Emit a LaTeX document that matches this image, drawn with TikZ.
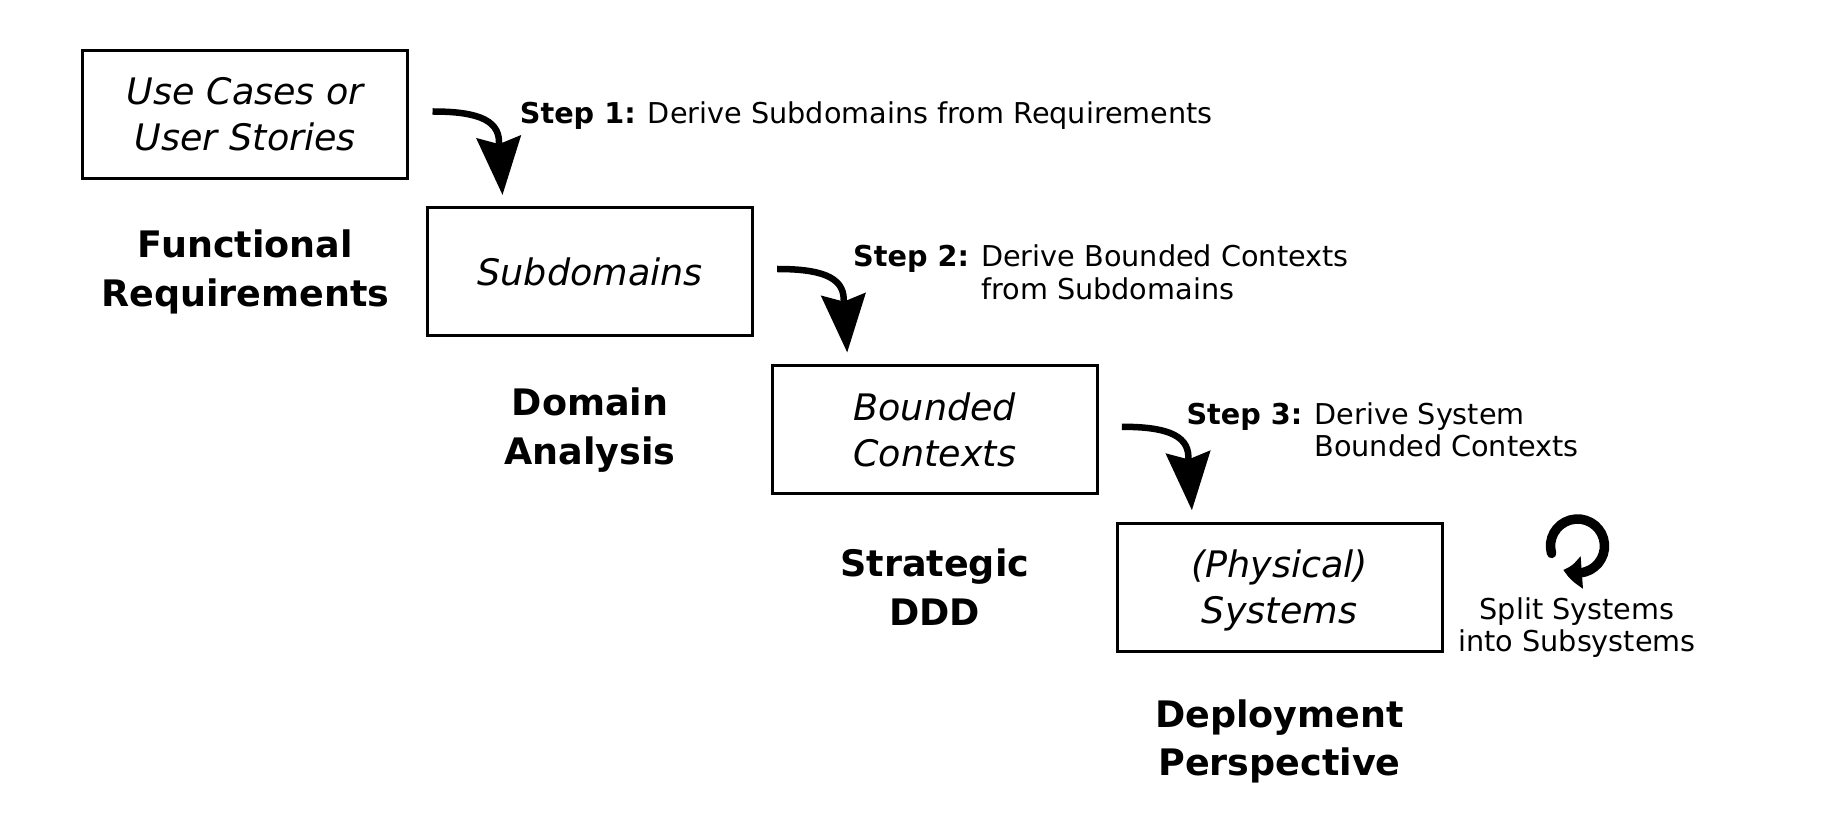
\documentclass[tikz,border=0pt]{standalone}
\usepackage{fontspec}
\setmainfont{DejaVu Sans}
\usetikzlibrary{arrows.meta,bending,calc}
\newcommand{\boxfont}{\fontsize{36.5}{46}\selectfont\itshape}
\newcommand{\lblfont}{\fontsize{36.5}{48.8}\selectfont\bfseries}
\newcommand{\stepfont}{\fontsize{28.7}{32.6}\selectfont}
\newcommand{\twoline}[2]{\raisebox{-4.1pt}[\height][\depth]{\begin{tabular}{@{}c@{}}#1\\#2\end{tabular}}}
\newcommand{\toplines}[3]{\begin{tabular}[t]{@{}#1@{}}#2\\#3\end{tabular}}
\begin{document}
\begin{tikzpicture}[x=1pt,y=1pt,
  stagebox/.style={draw, line width=3pt, minimum width=325pt, minimum height=128pt, inner sep=0pt, font=\boxfont},
  stagelbl/.style={anchor=base, inner sep=0pt, font=\lblfont},
  steplbl/.style={anchor=base west, inner sep=0pt, font=\stepfont},
  steparrow/.style={line width=6.5pt, -{Stealth[length=58pt,width=44pt,inset=7pt]}},
]
\useasboundingbox (0,0) rectangle (1828,820);

% stage boxes
\node[stagebox] (b1) at (245.4,705.5) {\twoline{Use Cases or}{User Stories}};
\node[stagebox] (b2) at (590.1,548.0) {Subdomains};
\node[stagebox] (b3) at (934.8,390.2) {\twoline{Bounded}{Contexts}};
\node[stagebox] (b4) at (1279.5,232.4) {\twoline{(Physical)}{Systems}};

% stage labels
\node[stagelbl] (l1) at ($(b1.center |- b2.center)+(0,14)$) {\toplines{c}{Functional}{Requirements}};
\node[stagelbl] (l2) at ($(b2.center |- b3.center)+(0,14.5)$) {\toplines{c}{Domain}{Analysis}};
\node[stagelbl] (l3) at ($(b3.center |- b4.center)+(0,11)$) {\toplines{c}{Strategic}{DDD}};
\node[stagelbl] (l4) at ($(b4.center)+(0,-139.5)$) {\toplines{c}{Deployment}{Perspective}};

% step labels
\node[steplbl] (s1) at (519.7,696.7) {\textbf{Step 1:} Derive Subdomains from Requirements};
\node[steplbl] (s2) at (853,553.5) {\toplines{l}{\textbf{Step 2:} Derive Bounded Contexts}{\hphantom{\textbf{Step 2:} }from Subdomains}};
\node[steplbl] (s3) at (1186.3,395.7) {\toplines{l}{\textbf{Step 3:} Derive System}{\hphantom{\textbf{Step 3:} }Bounded Contexts}};

% step arrows
\foreach \i in {1,2,3}{
  \coordinate (a\i s) at ($(b\i.east)+(23.1,3)$);
  \coordinate (a\i b) at ($(b\i.east)+(89.6,-27.5)$);
  \coordinate (a\i e) at ($(b\i.east)+(93.1,-80.5)$);
  \draw[steparrow] (a\i s) .. controls +(40,0) and +(0,24) .. (a\i b) -- (a\i e);
}

% split systems
\node[anchor=base, inner sep=0pt, font=\stepfont] (split) at (1577,200.7) {\toplines{c}{Split Systems}{into Subsystems}};
\coordinate (cyc) at (1577.5,274);
\draw[line width=9.5pt, line cap=round, -{Triangle[length=19pt,width=31pt,bend]}]
  ($(cyc)+(196:27)$) arc[start angle=196, end angle=-121, radius=27];
\end{tikzpicture}
\end{document}
